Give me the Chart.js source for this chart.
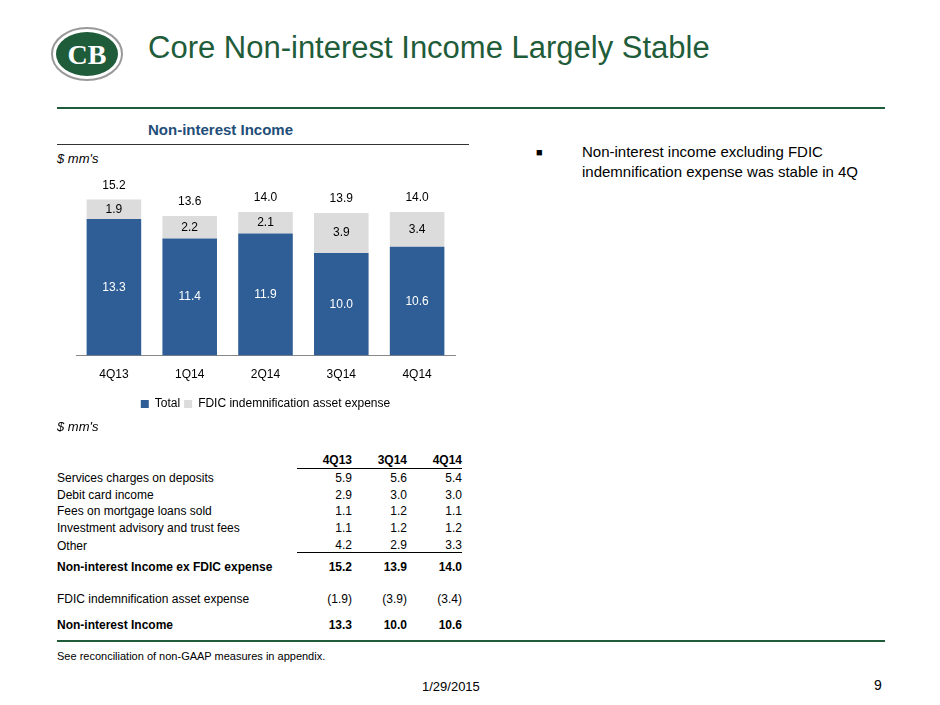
<!DOCTYPE html>
<html lang="en">
<head>
<meta charset="UTF-8">
<title>Core Non-interest Income Largely Stable</title>
<script src="https://cdn.jsdelivr.net/npm/chart.js"></script>
<style>
    body { margin: 0; width: 940px; height: 705px; position: relative; font-family: Arial, "Liberation Sans", sans-serif; background: #fff; }
    .abs { position: absolute; }
    h1 { position: absolute; left: 148px; top: 30px; margin: 0; font-size: 31px; font-weight: normal; color: #1F5C3A; }
    .rule { position: absolute; left: 57px; width: 828px; height: 2px; background: #1F5C3A; }
    table { border-collapse: collapse; font-size: 12px; color: #000; }
    td { padding: 0; height: 16px; line-height: 14px; }
    td.n { text-align: right; }
</style>
</head>
<body>
<svg class="abs" style="left:50px;top:26px" width="74" height="56">
    <ellipse cx="37" cy="28" rx="35" ry="26" fill="#fff" stroke="#999" stroke-width="2"/>
    <ellipse cx="37" cy="28" rx="31" ry="22" fill="#1F5C3A"/>
    <text x="37" y="38" text-anchor="middle" font-size="28" font-weight="bold" fill="#fff" font-family="Liberation Serif">CB</text>
</svg>
<h1>Core Non-interest Income Largely Stable</h1>
<div class="rule" style="top:107px"></div>
<div class="abs" style="left:148px;top:121px;font-size:15px;font-weight:bold;color:#1F4E79">Non-interest Income</div>
<div class="abs" style="left:57px;top:144px;width:412px;height:1px;background:#333"></div>
<div class="abs" style="left:57px;top:151px;font-size:13px;font-style:italic">$ mm's</div>
<div class="abs" style="left:536px;top:142px;font-size:15px;line-height:20px;width:350px">
    <span style="position:absolute;left:0;font-size:11px">■</span>
    <div style="margin-left:46px">Non-interest income excluding FDIC indemnification expense was stable in 4Q</div>
</div>
<div class="abs" style="left:57px;top:176px;width:420px;height:244px"><canvas id="c"></canvas></div>
<div class="abs" style="left:57px;top:419px;font-size:13px;font-style:italic">$ mm's</div>
<table class="abs" style="left:57px;top:452px;width:405px" id="tbl"></table>
<div class="rule" style="top:640px"></div>
<div class="abs" style="left:57px;top:650px;font-size:11px">See reconciliation of non-GAAP measures in appendix.</div>
<div class="abs" style="left:422px;top:679px;font-size:13px">1/29/2015</div>
<div class="abs" style="left:874px;top:677px;font-size:14px">9</div>
<script>
const quarters = ["4Q13", "1Q14", "2Q14", "3Q14", "4Q14"];
const totalVals = [13.3, 11.4, 11.9, 10.0, 10.6];
const fdicVals = [1.9, 2.2, 2.1, 3.9, 3.4];
const sumVals = [15.2, 13.6, 14.0, 13.9, 14.0];

const tableCols = ["4Q13", "3Q14", "4Q14"];
const tableRows = [
    ["Services charges on deposits", "5.9", "5.6", "5.4"],
    ["Debit card income", "2.9", "3.0", "3.0"],
    ["Fees on mortgage loans sold", "1.1", "1.2", "1.1"],
    ["Investment advisory and trust fees", "1.1", "1.2", "1.2"],
    ["Other", "4.2", "2.9", "3.3"],
    ["Non-interest Income ex FDIC expense", "15.2", "13.9", "14.0"],
    ["FDIC indemnification asset expense", "(1.9)", "(3.9)", "(3.4)"],
    ["Non-interest Income", "13.3", "10.0", "10.6"]
];
const rowHeights = [16, 17, 16, 17, 17, 21, 32, 26];

// build the table
const tbl = document.getElementById("tbl");
let html = "<tr><td></td>" + tableCols.map(c => `<td class="n" style="font-weight:bold;border-bottom:1px solid #000;width:55px">${c}</td>`).join("") + "</tr>";
tableRows.forEach((r, i) => {
    const bold = (i === 5 || i === 7) ? "font-weight:bold;" : "";
    const st = `height:${rowHeights[i]}px;vertical-align:bottom;`;
    const under = i === 4 ? "border-bottom:1px solid #000;" : "";
    html += `<tr><td style="${bold}${st}">${r[0]}</td>` +
        r.slice(1).map(v => `<td class="n" style="${bold}${st}${under}">${v}</td>`).join("") + "</tr>";
});
tbl.innerHTML = html;

const labelPlugin = {
    id: "labels",
    afterDatasetsDraw(chart) {
        const ctx = chart.ctx;
        ctx.save();
        ctx.font = "12px Arial";
        ctx.textAlign = "center";
        ctx.textBaseline = "middle";
        const m0 = chart.getDatasetMeta(0), m1 = chart.getDatasetMeta(1);
        m0.data.forEach((b, i) => {
            ctx.fillStyle = "#fff";
            ctx.fillText(totalVals[i].toFixed(1), b.x, (b.y + b.base) / 2);
            const f = m1.data[i];
            ctx.fillStyle = "#000";
            ctx.fillText(fdicVals[i].toFixed(1), f.x, (f.y + f.base) / 2);
            ctx.fillText(sumVals[i].toFixed(1), f.x, f.y - 14);
        });
        ctx.restore();
    }
};

new Chart(document.getElementById("c"), {
    type: "bar",
    data: {
        labels: quarters,
        datasets: [
            { label: "Total", data: totalVals, backgroundColor: "#2E5E95" },
            { label: "FDIC indemnification asset expense", data: fdicVals, backgroundColor: "#DCDCDC" }
        ]
    },
    options: {
        responsive: true,
        maintainAspectRatio: false,
        animation: false,
        layout: { padding: { left: 19, right: 22, top: 0 } },
        plugins: {
            tooltip: { enabled: false },
            legend: {
                position: "bottom",
                align: "center",
                labels: { boxWidth: 8, boxHeight: 8, color: "#000", font: { size: 12, family: "Arial" }, padding: 4 }
            }
        },
        scales: {
            x: {
                stacked: true,
                categoryPercentage: 0.61, barPercentage: 1,
                grid: { display: false, drawTicks: false },
                border: { color: "#888" },
                ticks: { color: "#000", font: { size: 12, family: "Arial" }, padding: 12 }
            },
            y: { stacked: true, display: false, min: 0, max: 17.5 }
        }
    },
    plugins: [labelPlugin]
});
</script>
</body>
</html>
